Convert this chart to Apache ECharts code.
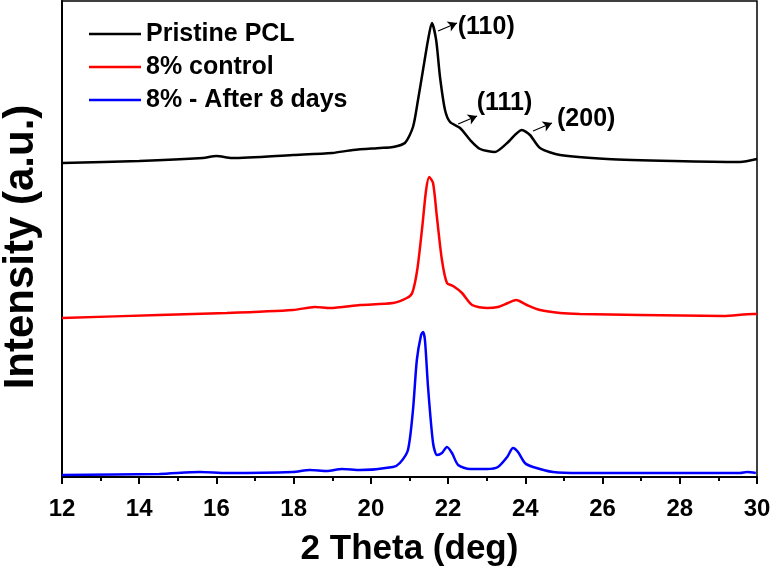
<!DOCTYPE html>
<html>
<head>
<meta charset="utf-8">
<script src="https://cdn.jsdelivr.net/npm/echarts@6/dist/echarts.min.js"></script>
<style>
  html, body { margin: 0; padding: 0; background: #fff; }
  #main { width: 771px; height: 567px; }
</style>
</head>
<body>
<div id="main"></div>
<script>
// 2 Theta positions and intensities (a.u., curves stacked with their offsets)
var thetaPristine = [12, 14, 15.65, 16.0, 16.4, 17.98, 19.0, 19.54, 20.24, 20.57, 20.88, 21.09, 21.22, 21.35, 21.48, 21.58, 21.69, 21.79, 21.92, 22.05, 22.31, 22.57, 22.83, 23.21, 23.53, 23.91, 24.12, 24.38, 24.9, 26.12, 27.83, 29.56, 30];
var intPristine   = [314, 316, 319, 321, 319, 322, 324, 327, 329, 330, 334, 350, 377, 407, 437, 454, 437, 400, 367, 355, 349, 337, 328, 325, 334, 347, 342, 329, 322, 318, 316, 315, 318];

var thetaControl = [12, 14.52, 16.27, 17.98, 18.55, 18.94, 19.72, 20.57, 20.93, 21.07, 21.2, 21.33, 21.43, 21.51, 21.61, 21.71, 21.84, 21.97, 22.13, 22.36, 22.62, 23.01, 23.29, 23.55, 23.76, 24.04, 24.38, 24.9, 25.41, 26.97, 29.12, 29.9, 30];
var intControl   = [159, 162, 164, 167, 170, 169, 172, 174, 179, 184, 207, 250, 287, 300, 294, 260, 217, 194, 191, 184, 172, 169, 170, 174, 177, 172, 167, 164, 163, 162, 161, 163, 163];

var thetaAfter8 = [12, 14.52, 15.57, 16.27, 17.98, 18.42, 18.86, 19.25, 19.72, 20.57, 20.75, 20.96, 21.09, 21.19, 21.3, 21.35, 21.4, 21.48, 21.61, 21.71, 21.84, 21.97, 22.1, 22.26, 22.57, 23.01, 23.29, 23.53, 23.68, 23.81, 23.99, 24.2, 24.72, 25.42, 27.57, 29.56, 29.74, 29.97];
var intAfter8   = [2, 3, 5, 4, 5, 7, 6, 8, 7, 10, 14, 27, 67, 117, 142, 145, 137, 90, 34, 22, 24, 30, 24, 12, 8, 8, 10, 20, 29, 25, 14, 10, 5, 4, 4, 4, 5, 4];

var seriesNames = ['Pristine PCL', '8% control', '8% - After 8 days'];
var seriesColors = ['#000000', '#ff0000', '#0000ff'];

// peak labels: text, arrow start, arrow end, text anchor
var peakLabels = ['(110)', '(111)', '(200)'];
var arrowFrom = [[21.74, 446], [22.26, 353], [24.2, 346]];
var arrowTo   = [[22.23, 454], [22.75, 361], [24.69, 354]];
var labelAt   = [[22.25, 450], [22.74, 374], [24.82, 358]];

function zip(xs, ys) {
    return xs.map(function (x, i) { return [x, ys[i]]; });
}

var myChart = echarts.init(document.getElementById('main'));

var font = 'Liberation Sans, Arial, sans-serif';

var lineSeries = [
    zip(thetaPristine, intPristine),
    zip(thetaControl, intControl),
    zip(thetaAfter8, intAfter8)
].map(function (d, i) {
    return {
        name: seriesNames[i],
        type: 'line',
        data: d,
        symbol: 'none',
        smooth: 0.25,
        lineStyle: { color: seriesColors[i], width: 2.5 },
        itemStyle: { color: seriesColors[i] },
        z: 3
    };
});

// arrows and (hkl) labels on the pristine curve
lineSeries[0].markLine = {
    silent: true,
    symbol: ['none', 'arrow'],
    symbolSize: [8, 9],
    lineStyle: { color: '#000', width: 1.2, type: 'solid' },
    label: { show: false },
    data: arrowFrom.map(function (a, i) {
        return [{ coord: a }, { coord: arrowTo[i] }];
    })
};
lineSeries[0].markPoint = {
    silent: true,
    symbol: 'circle',
    symbolSize: 0,
    label: {
        show: true,
        position: 'right',
        distance: 0,
        color: '#000',
        fontFamily: font,
        fontWeight: 'bold',
        fontSize: 25,
        formatter: function (p) { return p.name; }
    },
    data: peakLabels.map(function (t, i) {
        return { name: t, coord: labelAt[i] };
    })
};

myChart.setOption({
    animation: false,
    backgroundColor: '#fff',
    grid: {
        left: 62,
        right: 14,
        top: 1,
        bottom: 90,
        outerBoundsMode: 'none',
        show: true,
        borderColor: '#000',
        borderWidth: 1.5
    },
    legend: {
        left: 84,
        top: 16,
        orient: 'vertical',
        icon: 'rect',
        itemWidth: 52,
        itemHeight: 2.5,
        itemGap: 7,
        data: seriesNames,
        textStyle: {
            fontFamily: font,
            fontWeight: 'bold',
            fontSize: 25,
            lineHeight: 26,
            color: '#000'
        }
    },
    xAxis: {
        type: 'value',
        min: 12,
        max: 30,
        interval: 2,
        name: '2 Theta (deg)',
        nameLocation: 'middle',
        nameGap: 55,
        nameTextStyle: {
            fontFamily: font,
            fontWeight: 'bold',
            fontSize: 35,
            color: '#000'
        },
        axisLine: { lineStyle: { color: '#000', width: 2 } },
        axisTick: { length: 7, lineStyle: { color: '#000', width: 2 } },
        minorTick: { show: true, splitNumber: 2, length: 4, lineStyle: { color: '#000', width: 2 } },
        axisLabel: {
            margin: 20,
            fontFamily: font,
            fontWeight: 'bold',
            fontSize: 24,
            color: '#000'
        },
        splitLine: { show: false }
    },
    yAxis: {
        type: 'value',
        min: 0,
        max: 476,
        name: 'Intensity (a.u.)',
        nameLocation: 'middle',
        nameGap: 20,
        nameTextStyle: {
            fontFamily: font,
            fontWeight: 'bold',
            fontSize: 42,
            color: '#000',
            padding: [0, 16, 0, 0]
        },
        axisLine: { show: true, lineStyle: { color: '#000', width: 2 } },
        axisTick: { show: false },
        axisLabel: { show: false },
        splitLine: { show: false }
    },
    series: lineSeries
});
</script>
</body>
</html>
